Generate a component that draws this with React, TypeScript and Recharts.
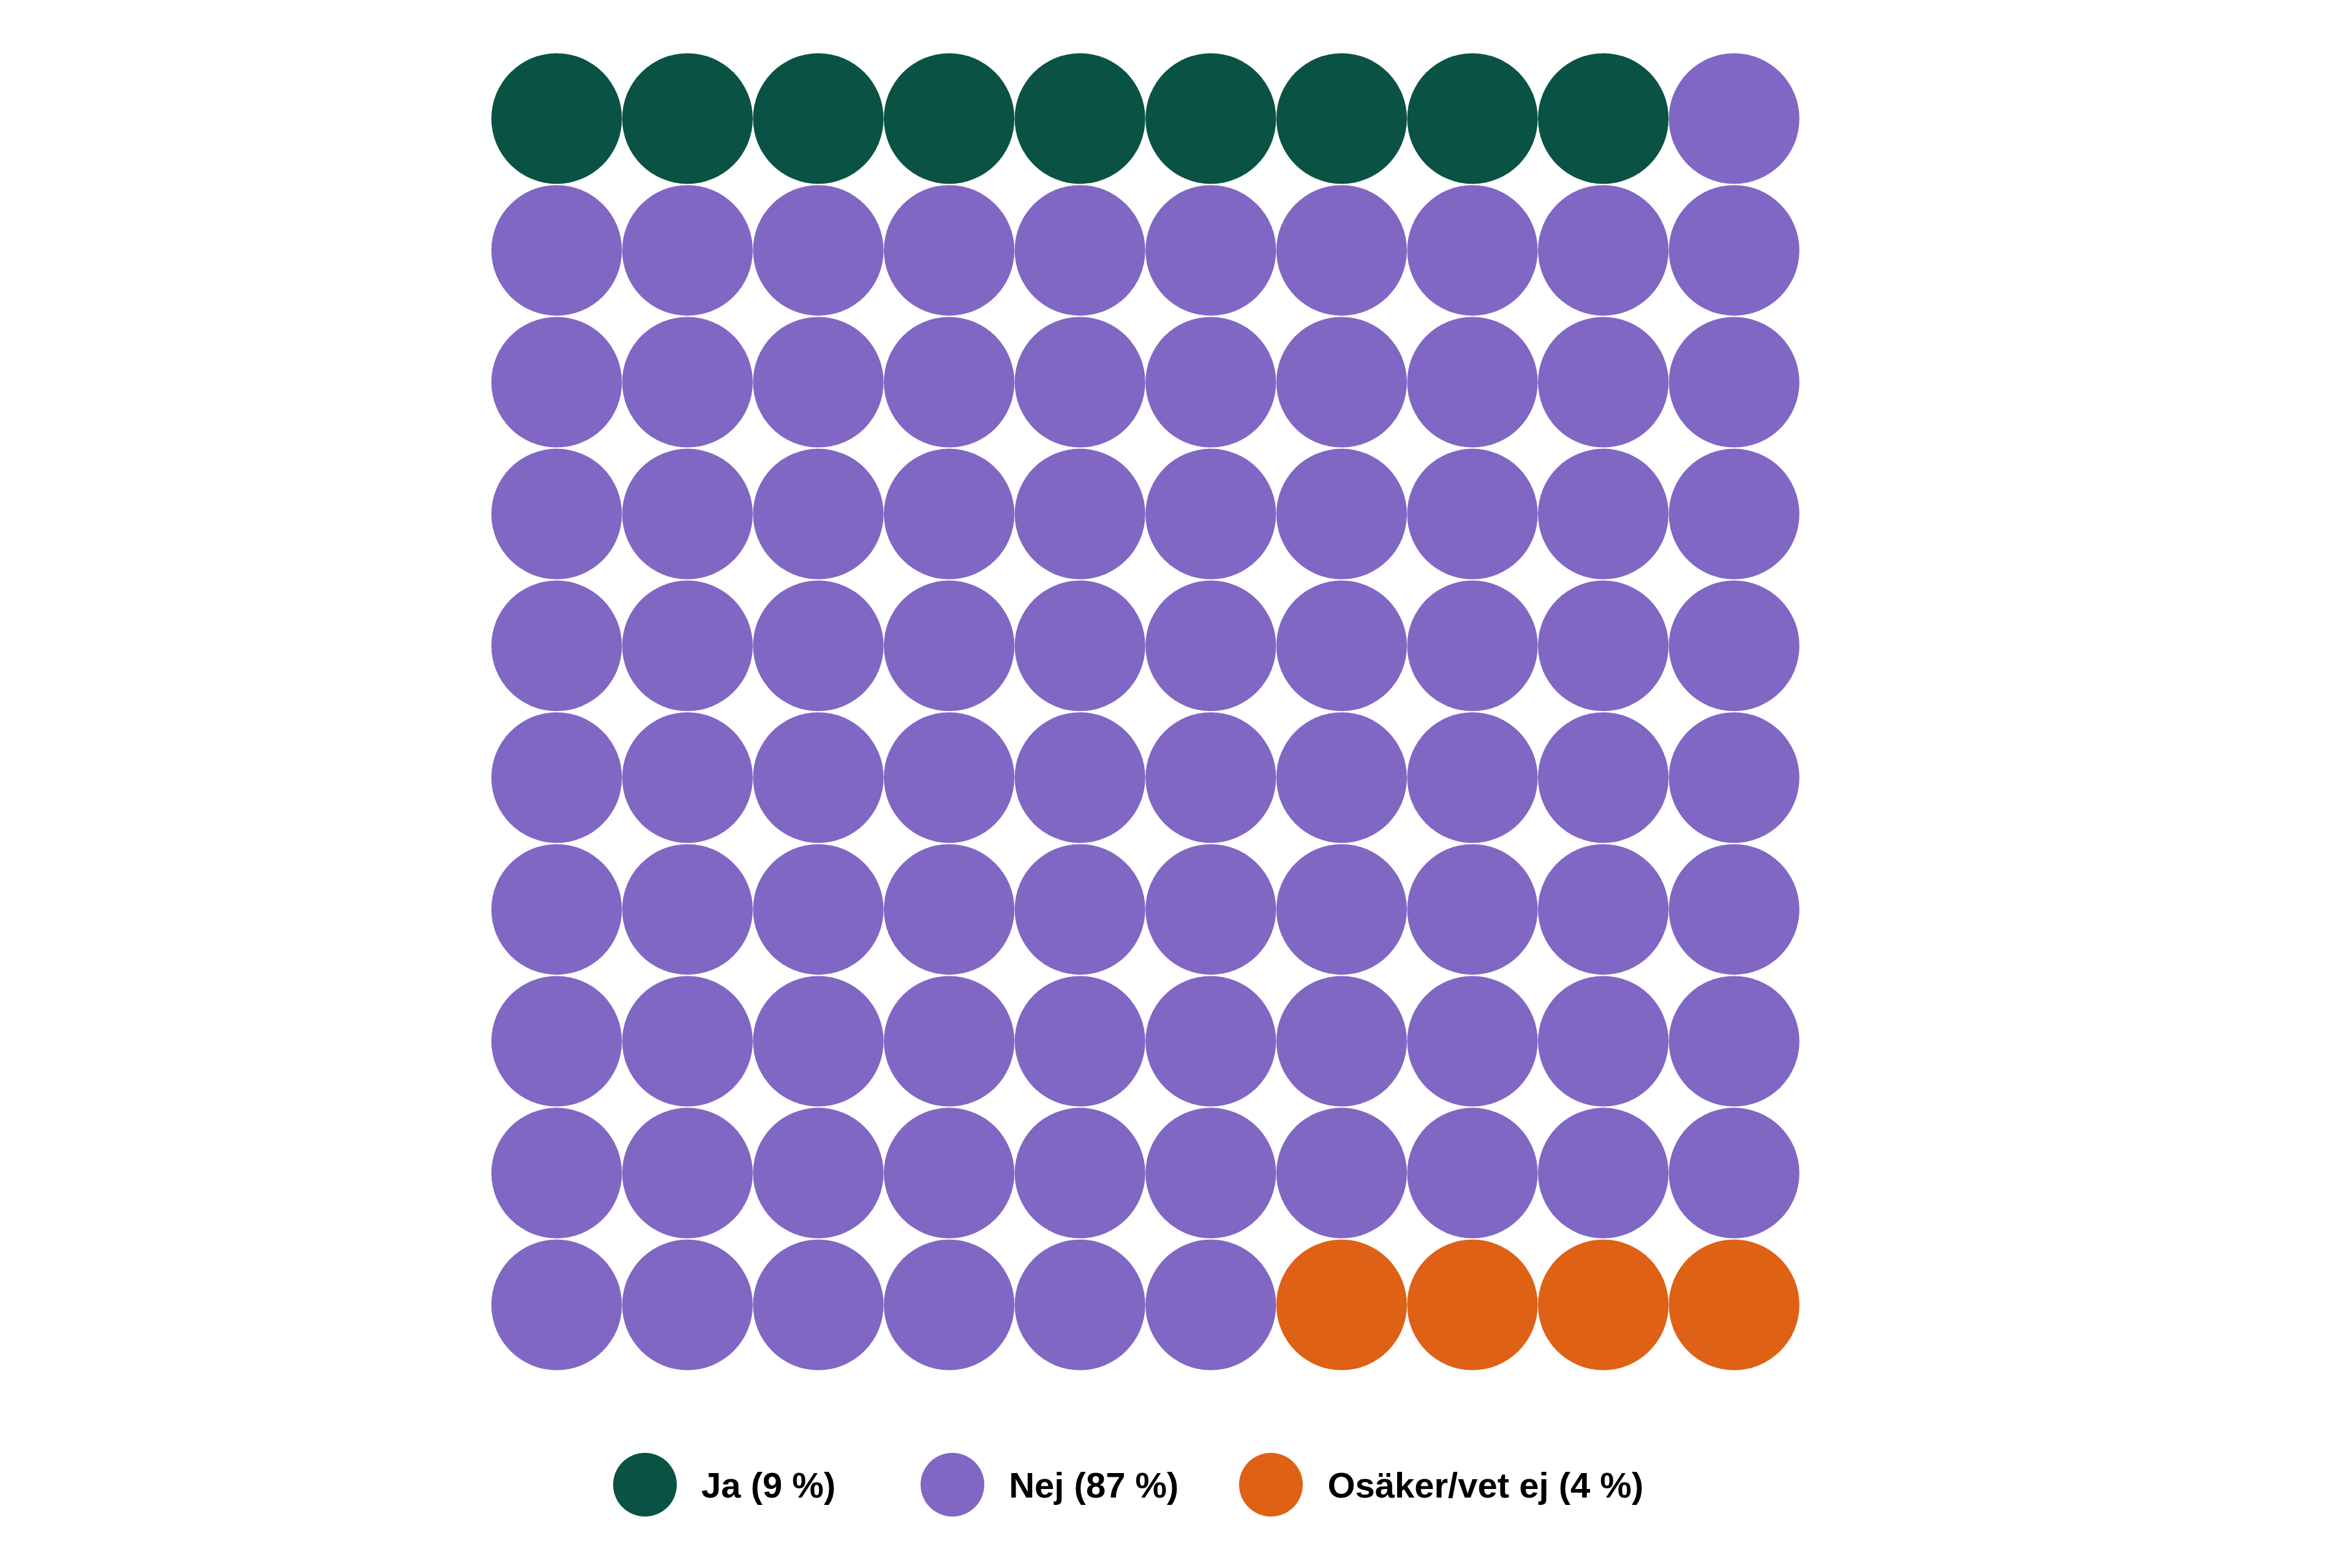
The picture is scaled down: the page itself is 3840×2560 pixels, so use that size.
import { ScatterChart, Scatter, XAxis, YAxis, Legend } from 'recharts';

// waffle chart: 10x10 grid, filled row by row from the top left
const categories = ['Ja (9 %)', 'Nej (87 %)', 'Osäker/vet ej (4 %)'];
const counts = [9, 87, 4];
const colors = ['#0A5344', '#8067C4', '#DE6116'];
const columns = 10;
const rows = 10;

const COLS = columns;
const R = 106.6;

// turn the counts into grid cells, one cell per percent
const series = (() => {
  let idx = 0;
  return counts.map((n) => {
    const pts: { x: number; y: number }[] = [];
    for (let k = 0; k < n; k++, idx++) {
      pts.push({ x: (idx % COLS) + 1, y: Math.floor(idx / COLS) + 1 });
    }
    return pts;
  });
})();

const Dot = (props: any) => {
  const { cx, cy, fill } = props;
  if (cx == null || cy == null) return null;
  return <circle cx={cx} cy={cy} r={R} fill={fill} />;
};

const legendGaps = [139, 99, 0];

const WaffleLegend = ({ payload }: any) => (
  <div style={{ display: 'flex', alignItems: 'center' }}>
    {(payload || []).map((p: any, i: number) => (
      <div
        key={p.value}
        style={{ display: 'flex', alignItems: 'center', marginRight: legendGaps[i] }}
      >
        <span
          style={{
            display: 'inline-block',
            width: 104,
            height: 104,
            borderRadius: '50%',
            background: p.color,
            marginRight: 40,
          }}
        />
        <span
          style={{
            fontFamily: '"Liberation Sans", Arial, sans-serif',
            fontWeight: 700,
            fontSize: 58,
            color: '#000',
            whiteSpace: 'nowrap',
          }}
        >
          {p.value}
        </span>
      </div>
    ))}
  </div>
);

export default function App() {
  return (
    <div style={{ position: 'absolute', left: 0, top: 0, background: '#fff' }}>
      <ScatterChart
        width={3840}
        height={2560}
        margin={{ top: 86, right: 902, bottom: 322, left: 802 }}
      >
        <XAxis type="number" dataKey="x" domain={[0.5, columns + 0.5]} hide />
        <YAxis type="number" dataKey="y" domain={[0.5, rows + 0.5]} reversed hide />
        <Legend
          layout="horizontal"
          align="center"
          verticalAlign="middle"
          content={<WaffleLegend />}
          wrapperStyle={{ left: 1001, top: 2372, width: 'auto', height: 104 }}
        />
        {categories.map((c, i) => (
          <Scatter
            key={c}
            name={c}
            data={series[i]}
            fill={colors[i]}
            shape={<Dot />}
            legendType="circle"
            isAnimationActive={false}
          />
        ))}
      </ScatterChart>
    </div>
  );
}
